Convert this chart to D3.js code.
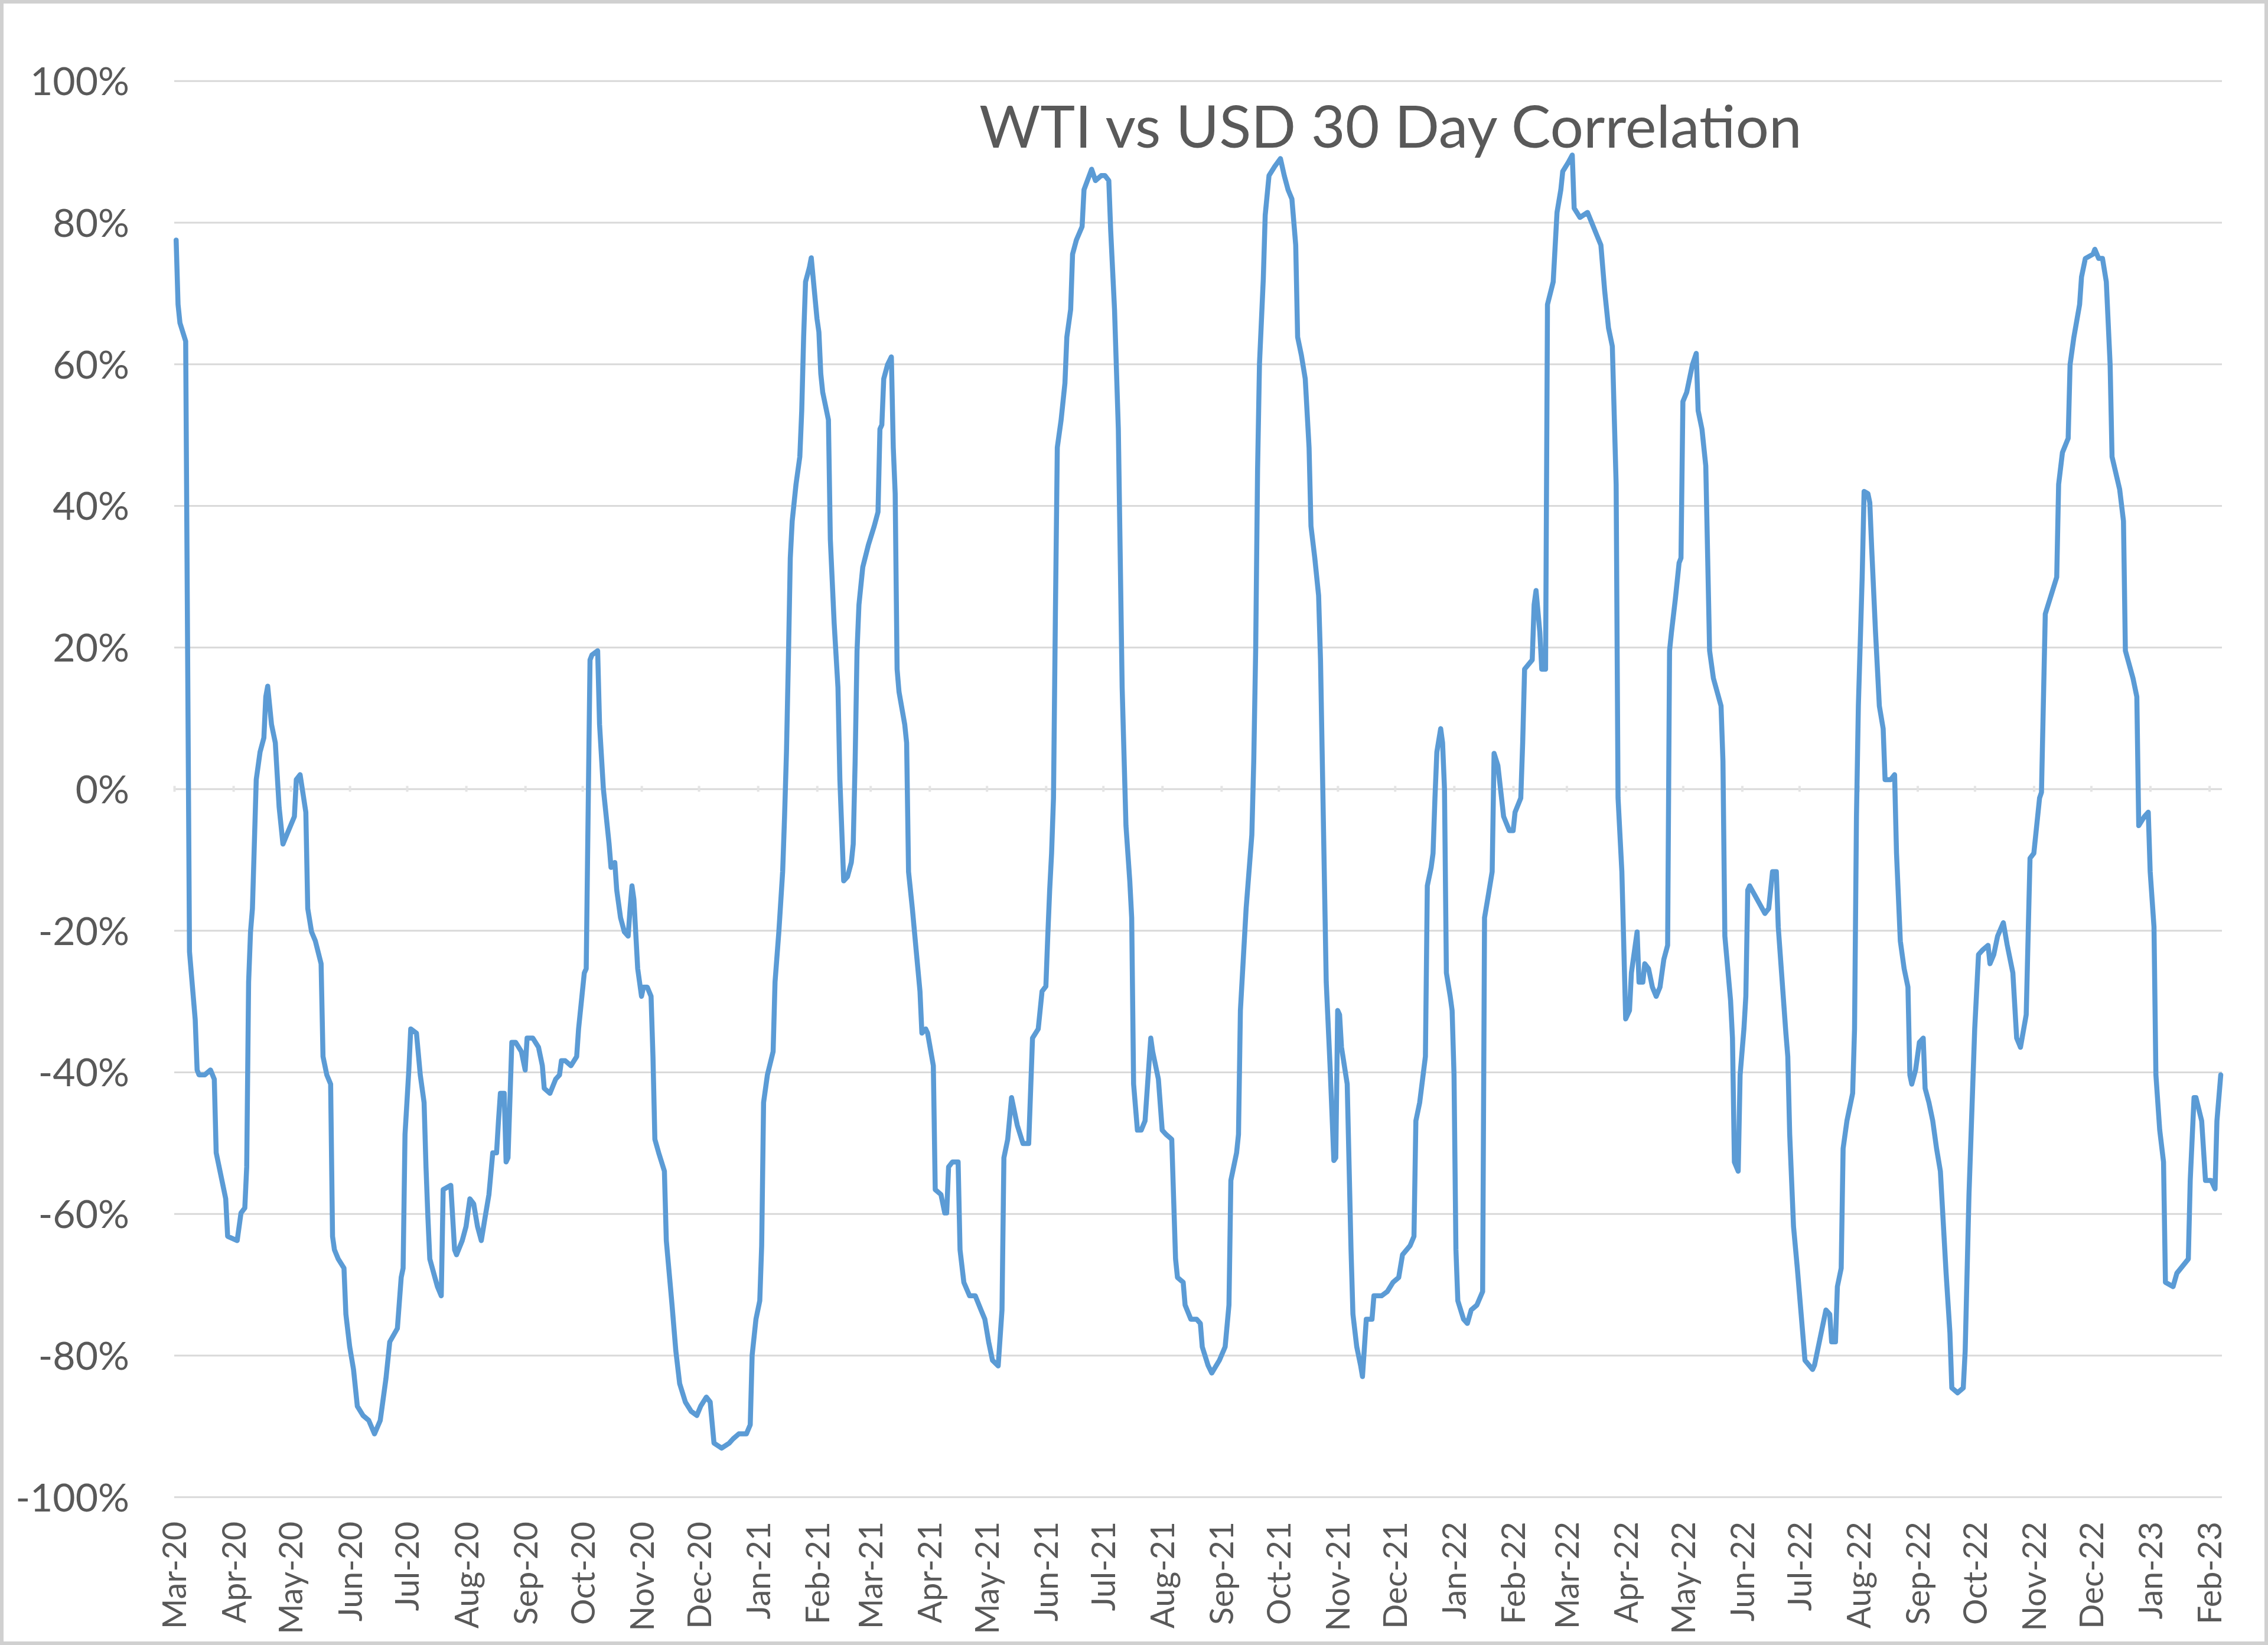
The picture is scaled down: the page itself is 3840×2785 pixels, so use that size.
<!DOCTYPE html>
<html>
<head>
<meta charset="utf-8">
<script src="https://cdn.jsdelivr.net/npm/d3@7"></script>
<style>html,body{margin:0;padding:0;background:#fff;}</style>
</head>
<body>
<svg id="chart" width="3840" height="2785"></svg>
<script>
// ---------- DATA ----------
const chartTitle = "WTI vs USD 30 Day Correlation";
const yTickValues = [-100, -80, -60, -40, -20, 0, 20, 40, 60, 80, 100];

const dates2020 = ["2020-03-02","2020-03-03","2020-03-04","2020-03-07","2020-03-09","2020-03-12","2020-03-13","2020-03-14","2020-03-17","2020-03-20","2020-03-22","2020-03-23","2020-03-26","2020-03-28","2020-03-29","2020-04-03","2020-04-05","2020-04-07","2020-04-08","2020-04-09","2020-04-10","2020-04-11","2020-04-13","2020-04-15","2020-04-17","2020-04-18","2020-04-19","2020-04-21","2020-04-23","2020-04-25","2020-04-27","2020-04-29","2020-05-03","2020-05-04","2020-05-06","2020-05-09","2020-05-10","2020-05-12","2020-05-14","2020-05-17","2020-05-18","2020-05-20","2020-05-22","2020-05-23","2020-05-24","2020-05-26","2020-05-29","2020-05-30","2020-06-01","2020-06-03","2020-06-05","2020-06-08","2020-06-11","2020-06-14","2020-06-17","2020-06-20","2020-06-22","2020-06-26","2020-06-28","2020-06-29","2020-06-30","2020-07-01","2020-07-02","2020-07-03","2020-07-06","2020-07-08","2020-07-10","2020-07-11","2020-07-12","2020-07-13","2020-07-17","2020-07-19","2020-07-20","2020-07-24","2020-07-26","2020-07-27","2020-07-30","2020-08-01","2020-08-03","2020-08-05","2020-08-07","2020-08-09","2020-08-11","2020-08-13","2020-08-15","2020-08-17","2020-08-18","2020-08-19","2020-08-21","2020-08-22","2020-08-23","2020-08-25","2020-08-27","2020-08-30","2020-09-01","2020-09-02","2020-09-05","2020-09-08","2020-09-10","2020-09-11","2020-09-14","2020-09-17","2020-09-19","2020-09-20","2020-09-22","2020-09-25","2020-09-28","2020-09-29","2020-10-02","2020-10-03","2020-10-05","2020-10-06","2020-10-09","2020-10-10","2020-10-12","2020-10-15","2020-10-16","2020-10-18","2020-10-19","2020-10-21","2020-10-23","2020-10-25","2020-10-26","2020-10-27","2020-10-28","2020-10-30","2020-11-01","2020-11-02","2020-11-04","2020-11-06","2020-11-07","2020-11-08","2020-11-10","2020-11-13","2020-11-14","2020-11-17","2020-11-19","2020-11-21","2020-11-24","2020-11-27","2020-11-30","2020-12-02","2020-12-05","2020-12-07","2020-12-09","2020-12-13","2020-12-17","2020-12-19","2020-12-22","2020-12-26","2020-12-28","2020-12-29","2020-12-31"];
const values2020 = [77.5,68.4,65.8,63.2,-23,-32.6,-39.7,-40.4,-40.4,-39.7,-41,-51.4,-55.3,-57.9,-63.2,-63.8,-59.9,-59.2,-53.4,-27.3,-20.2,-16.9,1.3,5.2,7.2,13,14.5,9.1,6.5,-2.6,-7.8,-6.5,-3.9,1.3,2,-3.3,-16.9,-20.2,-21.5,-24.7,-37.8,-40.4,-41.7,-63.2,-65.1,-66.4,-67.7,-74.2,-78.8,-82,-87.2,-88.5,-89.2,-91.1,-89.2,-83.3,-78.1,-76.2,-69,-67.7,-48.8,-44.3,-39.7,-33.9,-34.5,-40.4,-44.3,-53.4,-60.5,-66.4,-70.3,-71.6,-56.6,-56,-65.1,-65.8,-63.8,-61.8,-57.9,-58.6,-61.8,-63.8,-60.5,-57.3,-51.4,-51.4,-46.9,-43,-43,-52.7,-52.1,-35.8,-35.8,-37.1,-39.7,-35.2,-35.2,-36.5,-39.1,-42.3,-43,-41,-40.4,-38.4,-38.4,-39.1,-37.8,-33.9,-26,-25.4,18.2,18.9,19.5,9.1,0,-7.8,-11.1,-10.4,-14.3,-18.2,-20.2,-20.8,-16.9,-13.7,-15.6,-25.4,-29.3,-28,-28,-29.3,-37.8,-49.5,-51.4,-54,-63.8,-72.9,-79.4,-84,-86.6,-87.9,-88.5,-87.2,-85.9,-86.6,-92.4,-93.1,-92.4,-91.8,-91.1,-91.1,-89.8,-80,-74.9];

const dates2021 = ["2021-01-02","2021-01-03","2021-01-04","2021-01-06","2021-01-09","2021-01-10","2021-01-12","2021-01-14","2021-01-15","2021-01-16","2021-01-17","2021-01-18","2021-01-19","2021-01-21","2021-01-23","2021-01-24","2021-01-25","2021-01-26","2021-01-28","2021-01-29","2021-02-01","2021-02-02","2021-02-03","2021-02-04","2021-02-07","2021-02-08","2021-02-10","2021-02-12","2021-02-13","2021-02-15","2021-02-17","2021-02-19","2021-02-20","2021-02-21","2021-02-22","2021-02-23","2021-02-25","2021-02-28","2021-03-03","2021-03-05","2021-03-06","2021-03-07","2021-03-08","2021-03-10","2021-03-12","2021-03-13","2021-03-14","2021-03-15","2021-03-16","2021-03-19","2021-03-20","2021-03-21","2021-03-23","2021-03-25","2021-03-27","2021-03-28","2021-03-30","2021-03-31","2021-04-03","2021-04-04","2021-04-07","2021-04-09","2021-04-10","2021-04-11","2021-04-13","2021-04-16","2021-04-17","2021-04-19","2021-04-22","2021-04-25","2021-04-28","2021-04-30","2021-05-02","2021-05-04","2021-05-07","2021-05-09","2021-05-10","2021-05-12","2021-05-14","2021-05-17","2021-05-20","2021-05-23","2021-05-25","2021-05-28","2021-05-30","2021-06-01","2021-06-02","2021-06-03","2021-06-04","2021-06-05","2021-06-06","2021-06-07","2021-06-09","2021-06-11","2021-06-12","2021-06-14","2021-06-15","2021-06-17","2021-06-20","2021-06-21","2021-06-25","2021-06-27","2021-06-30","2021-07-02","2021-07-04","2021-07-05","2021-07-07","2021-07-09","2021-07-10","2021-07-11","2021-07-13","2021-07-15","2021-07-16","2021-07-17","2021-07-19","2021-07-21","2021-07-23","2021-07-26","2021-07-27","2021-07-30","2021-08-01","2021-08-03","2021-08-06","2021-08-08","2021-08-09","2021-08-12","2021-08-13","2021-08-16","2021-08-19","2021-08-21","2021-08-22","2021-08-25","2021-08-27","2021-08-31","2021-09-03","2021-09-05","2021-09-06","2021-09-09","2021-09-10","2021-09-11","2021-09-14","2021-09-17","2021-09-18","2021-09-19","2021-09-20","2021-09-21","2021-09-23","2021-09-24","2021-09-26","2021-09-29","2021-10-02","2021-10-04","2021-10-06","2021-10-08","2021-10-10","2021-10-11","2021-10-13","2021-10-15","2021-10-17","2021-10-18","2021-10-20","2021-10-22","2021-10-23","2021-10-26","2021-10-28","2021-10-30","2021-10-31","2021-11-01","2021-11-02","2021-11-03","2021-11-06","2021-11-07","2021-11-08","2021-11-09","2021-11-11","2021-11-13","2021-11-14","2021-11-16","2021-11-19","2021-11-20","2021-11-24","2021-11-27","2021-11-30","2021-12-03","2021-12-05","2021-12-09","2021-12-11","2021-12-12","2021-12-14","2021-12-17","2021-12-18","2021-12-20","2021-12-21","2021-12-22","2021-12-23","2021-12-25","2021-12-26","2021-12-27","2021-12-28","2021-12-30","2021-12-31"];
const values2021 = [-72.3,-64.5,-44.3,-40.4,-37.1,-27.3,-20.2,-11.7,-3.9,5.2,18.2,32.6,37.8,43,46.9,53.4,63.8,71.6,73.6,75,66.4,64.5,58.6,56,52.1,35.2,23.4,14.3,1.3,-13,-12.4,-10.4,-7.8,3.9,19.5,26,31.3,34.5,37.1,39.1,50.8,51.4,57.9,59.9,61,48.2,41.7,16.9,13.7,9.1,6.5,-11.7,-16.9,-22.8,-28.6,-34.5,-33.9,-34.5,-39.1,-56.6,-57.3,-59.9,-59.9,-53.4,-52.7,-52.7,-65.1,-69.7,-71.6,-71.6,-73.6,-74.9,-78.1,-80.7,-81.5,-73.6,-52.1,-49.5,-43.6,-47.5,-50.1,-50.1,-35.2,-33.9,-28.6,-27.9,-20.8,-14.3,-9.1,-1.3,24.7,48.2,52.1,57.3,63.8,67.7,75.5,77.5,79.4,84.6,87.5,85.9,86.6,86.6,85.9,78.8,67.7,50.8,32.6,14.3,-5.2,-13,-18.2,-41.7,-48.2,-48.2,-46.9,-35.2,-37.1,-41,-48.2,-48.8,-49.5,-66.4,-69,-69.7,-72.9,-74.9,-74.9,-75.5,-78.8,-81.4,-82.5,-80.7,-78.8,-72.9,-55.3,-51.4,-48.8,-31.3,-16.9,-6.5,3.9,19.5,45,60,72,81,86.6,87.9,89,86.6,84.6,83.3,76.8,63.8,61.2,57.9,48.2,37.1,32.6,27.3,18.2,-27.3,-39.1,-52.5,-52.1,-31.3,-31.9,-36.5,-41.7,-53.4,-65.1,-74.2,-78.8,-81.4,-83,-74.9,-74.9,-71.6,-71.6,-71,-69.7,-69,-65.8,-64.5,-63.2,-46.9,-44.3,-37.8,-13.7,-11.1,-9.1,-1.3,5.2,8.5,6.5,0,-26,-29.3,-31.3];

const dates2022 = ["2022-01-01","2022-01-02","2022-01-03","2022-01-06","2022-01-08","2022-01-10","2022-01-13","2022-01-16","2022-01-17","2022-01-19","2022-01-21","2022-01-22","2022-01-24","2022-01-27","2022-01-30","2022-02-01","2022-02-02","2022-02-05","2022-02-06","2022-02-07","2022-02-11","2022-02-12","2022-02-13","2022-02-15","2022-02-16","2022-02-18","2022-02-19","2022-02-22","2022-02-24","2022-02-26","2022-02-27","2022-03-02","2022-03-04","2022-03-05","2022-03-08","2022-03-12","2022-03-14","2022-03-17","2022-03-19","2022-03-21","2022-03-23","2022-03-25","2022-03-27","2022-03-28","2022-03-30","2022-04-01","2022-04-03","2022-04-04","2022-04-07","2022-04-08","2022-04-10","2022-04-11","2022-04-13","2022-04-15","2022-04-17","2022-04-19","2022-04-21","2022-04-23","2022-04-24","2022-04-25","2022-04-27","2022-04-29","2022-04-30","2022-05-01","2022-05-03","2022-05-06","2022-05-08","2022-05-09","2022-05-11","2022-05-13","2022-05-14","2022-05-15","2022-05-17","2022-05-21","2022-05-22","2022-05-23","2022-05-26","2022-05-27","2022-05-28","2022-05-30","2022-05-31","2022-06-02","2022-06-03","2022-06-04","2022-06-05","2022-06-13","2022-06-15","2022-06-17","2022-06-19","2022-06-20","2022-06-24","2022-06-25","2022-06-26","2022-06-28","2022-06-30","2022-07-02","2022-07-04","2022-07-08","2022-07-09","2022-07-13","2022-07-15","2022-07-17","2022-07-18","2022-07-20","2022-07-21","2022-07-23","2022-07-24","2022-07-26","2022-07-29","2022-07-30","2022-07-31","2022-08-01","2022-08-03","2022-08-04","2022-08-06","2022-08-07","2022-08-08","2022-08-10","2022-08-12","2022-08-14","2022-08-15","2022-08-18","2022-08-20","2022-08-21","2022-08-23","2022-08-25","2022-08-27","2022-08-28","2022-08-29","2022-08-31","2022-09-02","2022-09-04","2022-09-05","2022-09-07","2022-09-09","2022-09-11","2022-09-13","2022-09-16","2022-09-18","2022-09-19","2022-09-22","2022-09-25","2022-09-26","2022-09-28","2022-09-30","2022-10-01","2022-10-03","2022-10-05","2022-10-08","2022-10-09","2022-10-11","2022-10-13","2022-10-16","2022-10-18","2022-10-21","2022-10-23","2022-10-25","2022-10-28","2022-10-30","2022-11-01","2022-11-04","2022-11-05","2022-11-07","2022-11-10","2022-11-13","2022-11-14","2022-11-16","2022-11-19","2022-11-20","2022-11-22","2022-11-25","2022-11-26","2022-11-28","2022-12-02","2022-12-03","2022-12-05","2022-12-07","2022-12-09","2022-12-11","2022-12-12","2022-12-16","2022-12-18","2022-12-19","2022-12-23","2022-12-25","2022-12-26","2022-12-29","2022-12-31"];
const values2022 = [-40.4,-65.1,-72.3,-74.9,-75.5,-73.6,-72.9,-71,-18.2,-15,-11.7,5,3.3,-3.9,-5.9,-5.9,-3.3,-1.3,6.5,16.9,18.2,26,28,22.1,16.9,16.9,68.4,71.6,81.4,84.6,87.2,88.5,89.5,82,80.7,81.4,80.1,78.1,76.8,70.3,65.1,62.5,43,-1.3,-11.7,-32.5,-31.3,-26,-20.2,-27.3,-27.3,-24.7,-25.4,-28,-29.3,-28,-24.1,-22.1,19.5,22.1,26.7,31.9,32.6,54.7,56,59.9,61.5,53.4,50.8,45.6,32.6,19.5,15.6,11.7,3.9,-20.8,-29.9,-35.2,-52.7,-54,-40.4,-33.9,-29.3,-14.3,-13.7,-17.6,-16.9,-11.7,-11.7,-19.5,-34.5,-37.8,-48.8,-61.8,-67.7,-74.2,-80.7,-82,-81.4,-76.2,-73.6,-74.2,-78.1,-78.1,-70.3,-67.7,-50.8,-46.9,-43,-33.9,-3.9,11.7,29.9,42,41.7,40.4,33.9,22.1,11.7,8.5,1.3,1.3,2,-9.1,-21.5,-25.4,-28,-40.4,-41.7,-39.7,-35.8,-35.2,-42.3,-44.3,-46.9,-50.8,-54,-68.4,-76.8,-84.6,-85.3,-84.6,-79.4,-57.3,-41.7,-33.9,-23.4,-22.8,-22.1,-24.7,-23.4,-20.8,-18.9,-22,-26,-35.2,-36.5,-31.9,-9.8,-9.1,-1.3,-0.5,24.7,27.3,29.9,43,47.5,49.5,59.9,63.8,68.4,72.3,74.9,75.5,76.2,74.9,74.9,71.6,59.9,46.9,42.3,37.8,19.5,15.6,13,-5.2,-3.9,-3.3];

const dates2023 = ["2023-01-01","2023-01-03","2023-01-04","2023-01-06","2023-01-08","2023-01-09","2023-01-13","2023-01-15","2023-01-21","2023-01-22","2023-01-24","2023-01-25","2023-01-28","2023-01-30","2023-02-02","2023-02-04","2023-02-05","2023-02-07"];
const values2023 = [-11.7,-19.5,-40.4,-48.2,-52.7,-69.7,-70.3,-68.4,-66.4,-55.3,-43.6,-43.6,-46.9,-55.3,-55.3,-56.5,-46.9,-40.4];

// ---------- LAYOUT ----------
const W = 3840, H = 2785;
const plotLeft = 295, plotRight = 3762, plotTop = 136.7, plotBottom = 2534.3;
const font = "Lato, 'Open Sans', 'Liberation Sans', sans-serif";
const textColor = "#595959";
const gridColor = "#D9D9D9";
const lineColor = "#5B9BD5";

const svg = d3.select("#chart");
svg.append("rect").attr("x",0).attr("y",0).attr("width",W).attr("height",H).attr("fill","#fff");
svg.append("rect").attr("x",3).attr("y",3).attr("width",W-6).attr("height",H-6)
  .attr("fill","none").attr("stroke","#D0D0D0").attr("stroke-width",6);

const parse = d3.timeParse("%Y-%m-%d");
const allDates = [].concat(dates2020, dates2021, dates2022, dates2023);
const allValues = [].concat(values2020, values2021, values2022, values2023);
const data = allDates.map((d,i) => ({date: parse(d), v: allValues[i]}));

const x = d3.scaleTime()
  .domain([parse("2020-03-01"), parse("2023-02-07")])
  .range([plotLeft, 3760]);
const y = d3.scaleLinear().domain([-100, 100]).range([plotBottom, plotTop]);

function fitSize(str, targetWidth) {
  const t = svg.append("text").attr("font-family", font).attr("font-size", 100).text(str);
  const w = t.node().getComputedTextLength();
  t.remove();
  return 100 * targetWidth / w;
}
const ySize = fitSize("100%", 168);
const xSize = fitSize("Mar-20", 182);
const titleSize = fitSize(chartTitle, 1393);

// Y axis with gridlines
const yAxis = d3.axisLeft(y)
  .tickValues(yTickValues)
  .tickSize(-(plotRight - plotLeft))
  .tickPadding(76)
  .tickFormat(d => d + "%");
const gy = svg.append("g").attr("transform", `translate(${plotLeft},0)`).call(yAxis);
gy.select(".domain").remove();
gy.selectAll(".tick line").attr("stroke", gridColor).attr("stroke-width", 3);
gy.selectAll(".tick text").attr("fill", textColor).attr("font-family", font)
  .attr("font-size", ySize).attr("dy", "0.36em");

// Month tick marks on the zero line
const months = d3.timeMonth.range(parse("2020-03-01"), parse("2023-02-08"));
const gz = svg.append("g").attr("transform", `translate(0,${y(0)})`)
  .call(d3.axisBottom(x).tickValues(months).tickSize(5).tickFormat(""));
gz.select(".domain").remove();
gz.selectAll(".tick line").attr("stroke", "#E4E4E4").attr("stroke-width", 4).attr("y1", -5);

// Month labels at bottom
const gx = svg.append("g").attr("transform", `translate(0,2576)`)
  .call(d3.axisBottom(x).tickValues(months).tickSize(0).tickFormat(d3.timeFormat("%b-%y")));
gx.select(".domain").remove();
gx.selectAll(".tick text")
  .attr("transform", "rotate(-90)")
  .attr("text-anchor", "end")
  .attr("x", 0).attr("y", 0).attr("dy", "0.36em")
  .attr("fill", textColor).attr("font-family", font).attr("font-size", xSize);

// Line
const line = d3.line().x(d => x(d.date)).y(d => y(d.v));
svg.append("path").datum(data)
  .attr("d", line)
  .attr("fill", "none")
  .attr("stroke", lineColor)
  .attr("stroke-width", 8.5)
  .attr("stroke-linejoin", "round")
  .attr("stroke-linecap", "round");

// Title
svg.append("text")
  .attr("x", 1658).attr("y", 250)
  .attr("font-family", font).attr("font-size", titleSize)
  .attr("fill", textColor)
  .text(chartTitle);
</script>
</body>
</html>
